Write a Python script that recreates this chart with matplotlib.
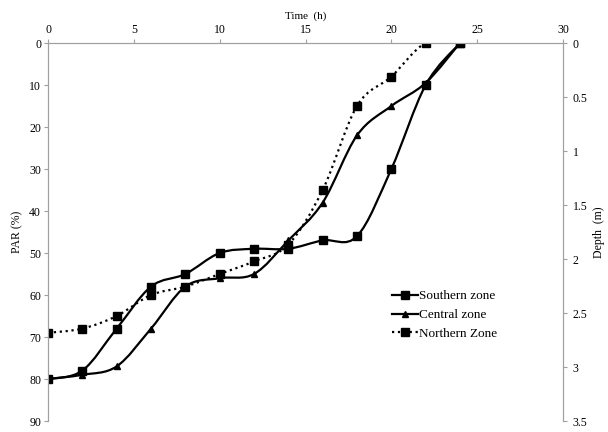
import matplotlib

matplotlib.use("Agg")
import matplotlib.pyplot as plt
import numpy as np
from matplotlib.lines import Line2D
from matplotlib.patches import PathPatch
from matplotlib.path import Path

plt.rcParams["font.family"] = ["Liberation Serif", "DejaVu Serif"]

time_h = [0, 2, 4, 6, 8, 10, 12, 14, 16, 18, 20, 22, 24]
southern = [80, 78, 68, 58, 55, 50, 49, 49, 47, 46, 30, 10, 0]
central = [80, 79, 77, 68, 58, 56, 55, 47, 38, 22, 15, 9.5, 0]
northern = [69, 68, 65, 60, 58, 55, 52, 48, 35, 15, 8, 0, 0]

x_ticks = [0, 5, 10, 15, 20, 25, 30]
par_ticks = [0, 10, 20, 30, 40, 50, 60, 70, 80, 90]
depth_ticks = [0, 0.5, 1, 1.5, 2, 2.5, 3, 3.5]
depth_labels = ["0", "0.5", "1", "1.5", "2", "2.5", "3", "3.5"]

SPINE = "#a0a0a0"


def smooth_path(xs, ys, tension=1 / 6):
    """Excel-like smoothed line: cubic Bezier through each point."""
    pts = np.column_stack([xs, ys]).astype(float)
    verts, codes = [pts[0]], [Path.MOVETO]
    n = len(pts)
    for i in range(n - 1):
        p0 = pts[max(i - 1, 0)]
        p1, p2 = pts[i], pts[i + 1]
        p3 = pts[min(i + 2, n - 1)]
        c1 = p1 + (p2 - p0) * tension
        c2 = p2 - (p3 - p1) * tension
        verts += [c1, c2, p2]
        codes += [Path.CURVE4] * 3
    return Path(verts, codes)


fig = plt.figure(figsize=(6.08, 4.32), dpi=100)
ax = fig.add_axes([48 / 608, 11 / 432, 515 / 608, 378 / 432])

series = [
    (southern, "-", "s", 5.5, "Southern zone"),
    (central, "-", "^", 4.8, "Central zone"),
    (northern, ":", "s", 5.5, "Northern Zone"),
]
handles = []
for values, ls, marker, ms, label in series:
    ax.add_patch(PathPatch(smooth_path(time_h, values), facecolor="none",
                           edgecolor="black", linewidth=1.6, linestyle=ls,
                           zorder=2))
    ax.plot(time_h, values, ls="none", marker=marker, ms=ms, color="black",
            zorder=3)
    handles.append(Line2D([], [], ls=ls, lw=1.6, marker=marker, ms=ms,
                          color="black", label=label))

ax.set_xlim(0, 30)
ax.set_ylim(90, 0)
ax.set_xticks(x_ticks)
ax.set_yticks(par_ticks)
ax.xaxis.tick_top()
ax.xaxis.set_label_position("top")
ax.set_xlabel("Time  (h)", fontsize=8, labelpad=4)
ax.set_ylabel("PAR (%)", fontsize=8.5, labelpad=4)
ax.tick_params(axis="both", labelsize=8.5, length=3, width=0.8, color=SPINE,
               pad=2)
for side in ("top", "left", "right"):
    ax.spines[side].set_color(SPINE)
ax.spines["bottom"].set_visible(False)

ax2 = ax.twinx()
ax2.set_ylim(3.5, 0)
ax2.set_yticks(depth_ticks, depth_labels)
ax2.set_ylabel("Depth  (m)", fontsize=8.5, labelpad=4)
ax2.tick_params(axis="y", labelsize=8.5, length=3, width=0.8, color=SPINE,
                pad=4)
for side in ("top", "left", "right"):
    ax2.spines[side].set_color(SPINE)
ax2.spines["bottom"].set_visible(False)

ax2.legend(handles=handles, loc="upper left", bbox_to_anchor=(0.657, 0.36),
           frameon=False, fontsize=9.5, handlelength=2.0, handletextpad=0.1,
           labelspacing=0.5, borderaxespad=0)

fig.savefig("out.png", dpi=100)
